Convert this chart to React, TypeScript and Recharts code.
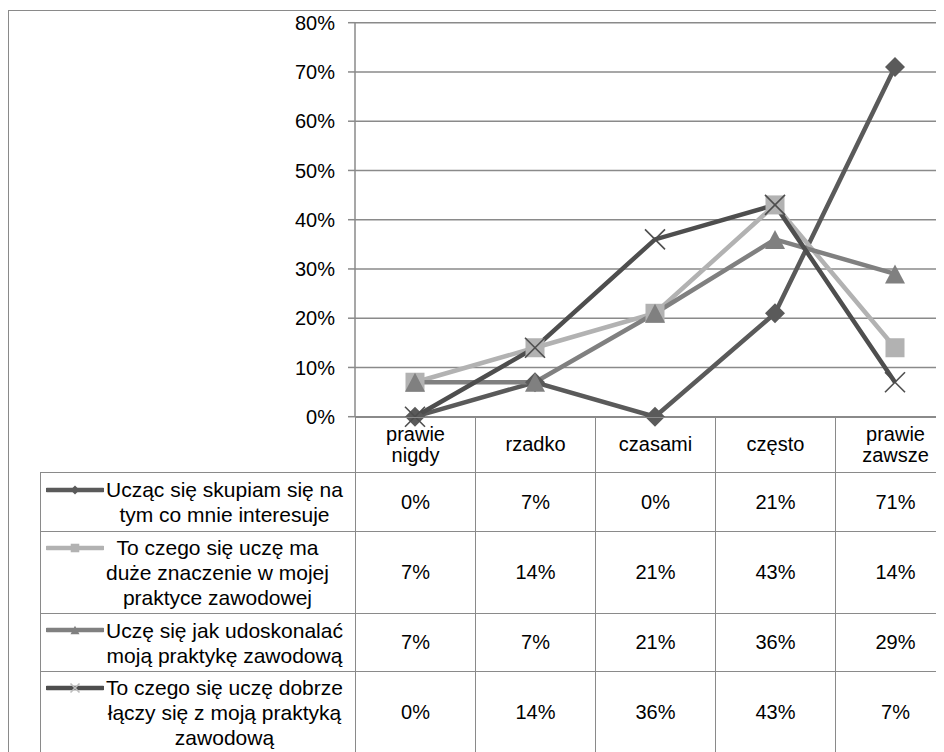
import React from 'react';
import { LineChart, Line, XAxis, YAxis, CartesianGrid } from 'recharts';

const CATEGORIES = ['prawie nigdy', 'rzadko', 'czasami', 'często', 'prawie zawsze'];
const Y_TICKS = [0, 10, 20, 30, 40, 50, 60, 70, 80];

const FOCUS_ON_INTEREST = [0, 7, 0, 21, 71];
const MATTERS_IN_PRACTICE = [7, 14, 21, 43, 14];
const IMPROVE_PRACTICE = [7, 7, 21, 36, 29];
const LINKS_WITH_PRACTICE = [0, 14, 36, 43, 7];

const SERIES_NAMES = [
    ['Ucząc się skupiam się na', 'tym co mnie interesuje'],
    ['To czego się uczę ma', 'duże znaczenie w mojej', 'praktyce zawodowej'],
    ['Uczę się jak udoskonalać', 'moją praktykę zawodową'],
    ['To czego się uczę dobrze', 'łączy się z moją praktyką', 'zawodową'],
];

type MarkerKind = 'diamond' | 'square' | 'triangle' | 'cross';

const SERIES: { key: string; values: number[]; color: string; marker: MarkerKind }[] = [
    { key: 's1', values: FOCUS_ON_INTEREST, color: '#5a5a5a', marker: 'diamond' },
    { key: 's2', values: MATTERS_IN_PRACTICE, color: '#b2b2b2', marker: 'square' },
    { key: 's3', values: IMPROVE_PRACTICE, color: '#808080', marker: 'triangle' },
    { key: 's4', values: LINKS_WITH_PRACTICE, color: '#4e4e4e', marker: 'cross' },
];

const chartData = CATEGORIES.map((cat, i) => {
    const row: { [key: string]: string | number } = { cat };
    SERIES.forEach(s => { row[s.key] = s.values[i]; });
    return row;
});

const FONT = '"Liberation Sans", Arial, sans-serif';
const GRID = '#8a8a8a';

function markerShape(kind: MarkerKind, cx: number, cy: number, k: number, color: string, crossColor?: string) {
    switch (kind) {
        case 'diamond':
            return <polygon points={`${cx},${cy - 10 * k} ${cx + 10 * k},${cy} ${cx},${cy + 10 * k} ${cx - 10 * k},${cy}`} fill={color} />;
        case 'square':
            return <rect x={cx - 9.5 * k} y={cy - 9.5 * k} width={19 * k} height={19 * k} fill={color} />;
        case 'triangle':
            return <polygon points={`${cx},${cy - 9.5 * k} ${cx + 10 * k},${cy + 9.5 * k} ${cx - 10 * k},${cy + 9.5 * k}`} fill={color} />;
        default:
            return (
                <g stroke={crossColor ?? color} strokeWidth={1.6}>
                    <line x1={cx - 10 * k} y1={cy - 10 * k} x2={cx + 10 * k} y2={cy + 10 * k} />
                    <line x1={cx - 10 * k} y1={cy + 10 * k} x2={cx + 10 * k} y2={cy - 10 * k} />
                </g>
            );
    }
}

function LegendIcon({ color, marker }: { color: string; marker: MarkerKind }) {
    return (
        <svg width={58} height={14} style={{ display: 'block' }}>
            <line x1={1} y1={7} x2={57} y2={7} stroke={color} strokeWidth={4.5} strokeLinecap="round" />
            {markerShape(marker, 29, 7, 0.45, color, '#bdbdbd')}
        </svg>
    );
}

// table geometry, relative to the chart frame
const COL_X = [32, 347, 467, 587, 707, 827, 947];
const ROW_Y = [408.7, 464, 523, 605, 663, 745];

const cellBase: React.CSSProperties = {
    position: 'absolute',
    boxSizing: 'border-box',
    borderLeft: `1.5px solid ${GRID}`,
    borderTop: `1.5px solid ${GRID}`,
    display: 'flex',
    alignItems: 'center',
    justifyContent: 'center',
    textAlign: 'center',
    fontFamily: FONT,
    fontSize: 20,
    color: '#000',
};

export default function App() {
    return (
        <div style={{ position: 'relative', width: 936, height: 744, overflow: 'hidden', background: '#fff' }}>
            <div style={{ position: 'absolute', left: 0, top: 2, width: 1000, height: 800, border: `1.5px solid ${GRID}`, boxSizing: 'border-box' }} />

            <div style={{ position: 'absolute', left: 0, top: 0 }}>
                <LineChart width={960} height={420} data={chartData} margin={{ top: 14.7, right: 13, left: 0, bottom: 11.3 }}>
                    <CartesianGrid vertical={false} stroke={GRID} strokeWidth={1.5} />
                    <XAxis dataKey="cat" hide padding={{ left: 60, right: 60 }} />
                    <YAxis
                        width={347}
                        domain={[0, 80]}
                        ticks={Y_TICKS}
                        interval={0}
                        tickFormatter={(v: number) => `${v}%`}
                        axisLine={{ stroke: GRID, strokeWidth: 1.5 }}
                        tickLine={{ stroke: GRID, strokeWidth: 1.5 }}
                        tickSize={7}
                        tickMargin={13}
                        tick={{ fill: '#000', fontSize: 20, fontFamily: FONT }}
                    />
                    {SERIES.map(s => (
                        <Line
                            key={s.key}
                            type="linear"
                            dataKey={s.key}
                            stroke={s.color}
                            strokeWidth={4.5}
                            isAnimationActive={false}
                            activeDot={false}
                            dot={(props: { cx?: number; cy?: number; index?: number }) => (
                                <g key={`${s.key}-${props.index}`}>
                                    {markerShape(s.marker, props.cx ?? 0, props.cy ?? 0, 1, s.color)}
                                </g>
                            )}
                        />
                    ))}
                </LineChart>
            </div>

            {/* category header row */}
            {CATEGORIES.map((cat, i) => (
                <div key={cat} style={{ ...cellBase, left: COL_X[i + 1], top: ROW_Y[0], width: 120, height: ROW_Y[1] - ROW_Y[0], lineHeight: '21px' }}>
                    <div>
                        {cat.split(' ').map((w, j) => <div key={j}>{w}</div>)}
                    </div>
                </div>
            ))}

            {/* legend + value rows */}
            {SERIES.map((s, r) => (
                <React.Fragment key={s.key}>
                    <div style={{ ...cellBase, left: COL_X[0], top: ROW_Y[r + 1], width: COL_X[1] - COL_X[0], height: ROW_Y[r + 2] - ROW_Y[r + 1], justifyContent: 'flex-start', alignItems: 'center', lineHeight: '25px', fontSize: 21 }}>
                        <div style={{ position: 'relative', paddingLeft: 65 }}>
                            <div style={{ position: 'absolute', left: 5, top: 5.5 }}>
                                <LegendIcon color={s.color} marker={s.marker} />
                            </div>
                            {SERIES_NAMES[r].map((line, j) => <div key={j}>{line}</div>)}
                        </div>
                    </div>
                    {s.values.map((v, i) => (
                        <div key={i} style={{ ...cellBase, left: COL_X[i + 1], top: ROW_Y[r + 1], width: 120, height: ROW_Y[r + 2] - ROW_Y[r + 1] }}>
                            {`${v}%`}
                        </div>
                    ))}
                </React.Fragment>
            ))}
        </div>
    );
}
